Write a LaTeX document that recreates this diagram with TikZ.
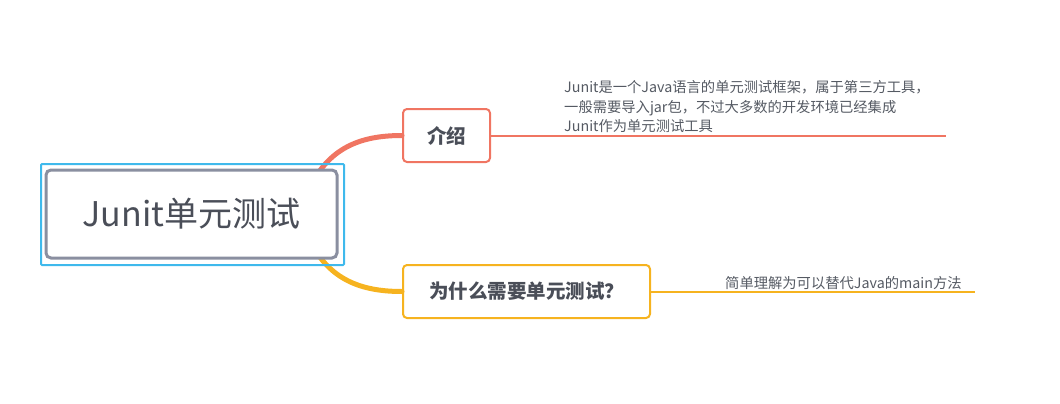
\documentclass[tikz,border=0pt]{standalone}
\usepackage{fontspec}
\setmainfont{Noto Sans CJK SC}
\usetikzlibrary{positioning}
\definecolor{selblue}{HTML}{3FB9EC}
\definecolor{rootgray}{HTML}{8A8FA0}
\definecolor{introred}{HTML}{F07562}
\definecolor{whyorange}{HTML}{F6B31F}
\definecolor{textdark}{HTML}{4A4E58}
\definecolor{notegray}{HTML}{555A63}
\tikzset{
  topic/.style={draw, fill=white, rounded corners=4pt, line width=2pt, text=textdark,
    font=\fontsize{19.5}{21}\selectfont\bfseries, minimum height=53pt, inner sep=0pt},
  note/.style={text=notegray, font=\fontsize{14.3}{19.5}\selectfont, align=left, inner sep=0pt},
  branch/.style={line width=5pt, line cap=round},
  stem/.style={line width=2pt}
}
\begin{document}
\begin{tikzpicture}[x=1pt,y=-1pt]
    \useasboundingbox (0,0) rectangle (1060,404);
    % branches behind the root
    \coordinate (rootup) at (315,178);
    \coordinate (rootdown) at (315,250);
    \node[topic, draw=introred, minimum width=87pt] (intro) at (446.5,135.5) {介绍};
    \node[topic, draw=whyorange, minimum width=247pt] (why) at (526.5,291.5) {为什么需要单元测试？};
    \draw[branch, introred] (rootup) .. controls (335,145) and (365,135.5) .. (intro.west);
    \draw[branch, whyorange] (rootdown) .. controls (335,282) and (365,291.5) .. (why.west);
    % root
    \node[draw=selblue, line width=2pt, rounded corners=1pt, minimum width=303pt, minimum height=101pt] (rootsel) at (192.5,214.5) {};
    \node[draw=rootgray, fill=white, line width=3pt, rounded corners=5pt, minimum width=291pt,
      minimum height=88pt, text=textdark, font=\fontsize{34}{36}\selectfont] (root) at (191.5,214) {Junit单元测试};
    % notes
    \coordinate (introend) at (946,135.5);
    \coordinate (whyend) at (975,292);
    \draw[stem, introred] (intro.east) -- (introend);
    \draw[stem, whyorange] (why.east |- whyend) -- (whyend);
    \node[note, anchor=south west] (introtxt) at (564,133) {Junit是一个Java语言的单元测试框架，属于第三方工具，\\一般需要导入jar包，不过大多数的开发环境已经集成\\Junit作为单元测试工具};
    \node[note, anchor=south west] (whytxt) at (725,290) {简单理解为可以替代Java的main方法};
\end{tikzpicture}
\end{document}
